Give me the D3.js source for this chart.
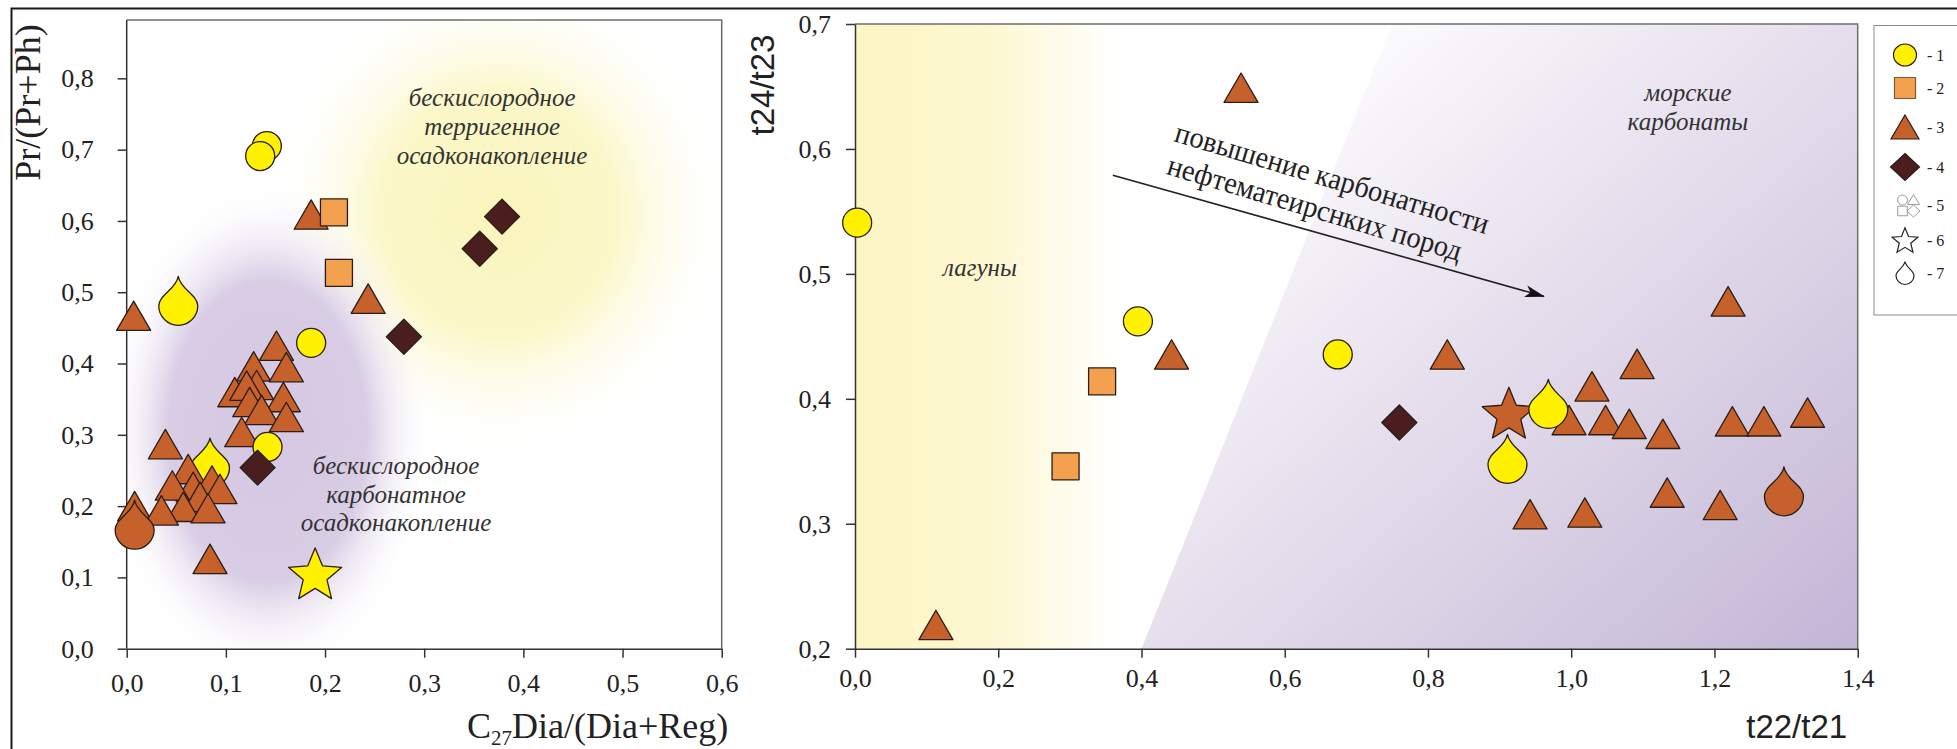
<!DOCTYPE html>
<html><head><meta charset="utf-8">
<script src="https://cdn.jsdelivr.net/npm/d3@7"></script>
<style>
html,body{margin:0;padding:0;background:#fff;overflow:hidden}
svg{display:block}
</style></head>
<body>
<svg id="chart" width="1957" height="749"></svg>
<script>
// ---------------- DATA ----------------
// tick values
const leftXTicks = [0, 0.1, 0.2, 0.3, 0.4, 0.5, 0.6];
const leftYTicks = [0, 0.1, 0.2, 0.3, 0.4, 0.5, 0.6, 0.7, 0.8];
const rightXTicks = [0, 0.2, 0.4, 0.6, 0.8, 1.0, 1.2, 1.4];
const rightYTicks = [0.2, 0.3, 0.4, 0.5, 0.6, 0.7];

// legend categories
const legendLabels = ["- 1", "- 2", "- 3", "- 4", "- 5", "- 6", "- 7"];
const legendShapes = ["circle", "square", "triangle", "diamond", "outline4", "star", "drop"];

// Left plot: C27Dia/(Dia+Reg) vs Pr/(Pr+Ph)
const leftGroup1 = [[0.1413, 0.705], [0.1346, 0.691], [0.186, 0.429], [0.142, 0.283]];
const leftGroup2 = [[0.209, 0.612], [0.214, 0.527]];
const leftGroup3 = [[0.186, 0.609], [0.2435, 0.491], [0.007, 0.467], [0.008, 0.200],
  [0.128, 0.396], [0.151, 0.425], [0.161, 0.395], [0.131, 0.370], [0.109, 0.360],
  [0.121, 0.369], [0.158, 0.353], [0.124, 0.346], [0.136, 0.335], [0.161, 0.325],
  [0.116, 0.304], [0.039, 0.287], [0.062, 0.252], [0.086, 0.236], [0.067, 0.227],
  [0.046, 0.229], [0.094, 0.224], [0.074, 0.213], [0.057, 0.199], [0.035, 0.194],
  [0.082, 0.197], [0.084, 0.126]];
const leftGroup4 = [[0.3785, 0.606], [0.356, 0.561], [0.2795, 0.4375], [0.132, 0.254]];
const leftDrops = [[0.052, 0.488, 1], [0.084, 0.261, 1]];
const leftDropsFront = [[0.008, 0.174, 3]];
const leftStars = [[0.19, 0.106, 1]];

// Right plot: t22/t21 vs t24/t23
const rightGroup1 = [[0.003, 0.541], [0.395, 0.462], [0.674, 0.4355]];
const rightGroup2 = [[0.345, 0.414], [0.294, 0.346]];
const rightGroup3 = [[0.539, 0.649], [0.442, 0.4355], [0.113, 0.219], [0.827, 0.4355],
  [1.219, 0.478], [1.092, 0.428], [1.029, 0.410], [0.997, 0.383], [1.048, 0.383],
  [1.081, 0.380], [1.128, 0.372], [1.225, 0.382], [1.269, 0.382], [1.330, 0.389],
  [1.134, 0.325], [1.208, 0.315], [0.9425, 0.3076], [1.019, 0.309]];
const rightGroup4 = [[0.760, 0.381]];
const rightStars = [[0.913, 0.389, 3]];
const rightDrops = [[0.968, 0.396, 1], [0.911, 0.352, 1], [1.297, 0.326, 3]];

// ---------------- STYLE ----------------
const catColor = {1: "#fff100", 2: "#f4a14f", 3: "#c7612c", 4: "#4a1e1e"};
const strokeCol = "#2b1d14";
const serif = "'Liberation Serif','Times New Roman',serif";
const sans = "'Liberation Sans',Arial,sans-serif";
const comma = d => d3.format(".1f")(d).replace(".", ",");

const svg = d3.select("#chart");
const defs = svg.append("defs");

// ---------- symbol paths ----------
function triPath(w, h) { return `M0,${-h/2}L${w/2},${h/2}L${-w/2},${h/2}Z`; }
function sqPath(s) { return `M${-s/2},${-s/2}h${s}v${s}h${-s}Z`; }
function diaPath(hw, hh) { return `M0,${-hh}L${hw},0L0,${hh}L${-hw},0Z`; }
function starPath(R, r) {
  let p = "";
  for (let i = 0; i < 10; i++) {
    const rad = i % 2 === 0 ? R : r;
    const a = -Math.PI / 2 + i * Math.PI / 5;
    p += (i === 0 ? "M" : "L") + (rad * Math.cos(a)).toFixed(2) + "," + (rad * Math.sin(a) + R * 0.1).toFixed(2);
  }
  return p + "Z";
}
function dropPath(w, h) {
  const r = w / 2, cy = h / 2 - r, ty = -h / 2;
  return `M0,${ty}C${r*0.12},${ty + (cy - ty)*0.45} ${r},${cy - r*0.55} ${r},${cy}` +
         `A${r},${r} 0 1 1 ${-r},${cy}` +
         `C${-r},${cy - r*0.55} ${-r*0.12},${ty + (cy - ty)*0.45} 0,${ty}Z`;
}

// ---------- LEFT PLOT ----------
const lx = d3.scaleLinear().domain([0, 0.6]).range([126.7, 721.7]);
const ly = d3.scaleLinear().domain([0, 0.88]).range([648.7, 21.3]);
const L = {x0: lx(0), x1: lx(0.6), y0: ly(0), y1: 20};

// background blobs
const gY = defs.append("radialGradient").attr("id", "blobY");
gY.append("stop").attr("offset", "0").attr("stop-color", "#faf5bc");
gY.append("stop").attr("offset", "0.5").attr("stop-color", "#fbf7c9");
gY.append("stop").attr("offset", "1").attr("stop-color", "#ffffff").attr("stop-opacity", 0);
const gP = defs.append("radialGradient").attr("id", "blobP");
gP.append("stop").attr("offset", "0").attr("stop-color", "#d4c7e2");
gP.append("stop").attr("offset", "0.6").attr("stop-color", "#d8cde5");
gP.append("stop").attr("offset", "1").attr("stop-color", "#ffffff").attr("stop-opacity", 0);

defs.append("clipPath").attr("id", "clipL").append("rect")
  .attr("x", L.x0).attr("y", L.y1).attr("width", L.x1 - L.x0).attr("height", L.y0 - L.y1);

const lbg = svg.append("g").attr("clip-path", "url(#clipL)");
lbg.append("ellipse").attr("cx", lx(0.375)).attr("cy", ly(0.61)).attr("rx", 235).attr("ry", 245).attr("fill", "url(#blobY)");
lbg.append("ellipse").attr("cx", lx(0.142)).attr("cy", ly(0.305)).attr("rx", 165).attr("ry", 250).attr("fill", "url(#blobP)");

// ---------- RIGHT PLOT ----------
const rx = d3.scaleLinear().domain([0, 1.4]).range([855, 1857.7]);
const ry = d3.scaleLinear().domain([0.2, 0.7]).range([648.7, 24]);
const R = {x0: rx(0), x1: rx(1.4), y0: ry(0.2), y1: ry(0.7)};

const gYel = defs.append("linearGradient").attr("id", "yelRect").attr("x1", 0).attr("x2", 1).attr("y1", 0).attr("y2", 0);
gYel.append("stop").attr("offset", "0").attr("stop-color", "#fcf5c4");
gYel.append("stop").attr("offset", "0.45").attr("stop-color", "#fcf7cf");
gYel.append("stop").attr("offset", "0.92").attr("stop-color", "#ffffff");
const gPur = defs.append("linearGradient").attr("id", "purPoly").attr("gradientUnits", "userSpaceOnUse")
  .attr("x1", 1300).attr("y1", 30).attr("x2", R.x1).attr("y2", R.y0);
gPur.append("stop").attr("offset", "0").attr("stop-color", "#ffffff");
gPur.append("stop").attr("offset", "1").attr("stop-color", "#c3b5d5");

svg.append("rect").attr("x", rx(0)).attr("y", R.y1).attr("width", rx(0.4) - rx(0)).attr("height", R.y0 - R.y1)
  .attr("fill", "url(#yelRect)");
const polyPts = [[0.4, 0.2], [1.4, 0.2], [1.4, 0.7], [0.75, 0.7]];
svg.append("path").attr("d", "M" + polyPts.map(p => rx(p[0]) + "," + ry(p[1])).join("L") + "Z")
  .attr("fill", "url(#purPoly)");

// ---------- frames & axes ----------
function box(b) {
  svg.append("path").attr("d", `M${b.x0},${b.y1}H${b.x1}V${b.y0}`)
    .attr("fill", "none").attr("stroke", "#6d6d6d").attr("stroke-width", 1.5);
}
box(L); box(R);

function styleAxis(g) {
  g.attr("font-family", null).attr("font-size", null);
  g.selectAll("text").style("font-family", serif).style("font-size", "26px").attr("fill", "#222");
  g.selectAll("line").attr("stroke", "#333").attr("stroke-width", 1.5);
  g.select(".domain").attr("stroke", "#333").attr("stroke-width", 1.5);
}
svg.append("g").attr("transform", `translate(0,${L.y0})`)
  .call(d3.axisBottom(lx).tickValues(leftXTicks).tickFormat(comma).tickSize(9).tickSizeOuter(0).tickPadding(16))
  .call(styleAxis);
svg.append("g").attr("transform", `translate(${L.x0},0)`)
  .call(d3.axisLeft(ly).tickValues(leftYTicks).tickFormat(comma).tickSize(9).tickSizeOuter(0).tickPadding(24))
  .call(styleAxis)
  .select(".domain").attr("d", `M0,${L.y0}V${L.y1}`);
svg.append("g").attr("transform", `translate(0,${R.y0})`)
  .call(d3.axisBottom(rx).tickValues(rightXTicks).tickFormat(comma).tickSize(9).tickSizeOuter(0).tickPadding(11))
  .call(styleAxis);
svg.append("g").attr("transform", `translate(${R.x0},0)`)
  .call(d3.axisLeft(ry).tickValues(rightYTicks).tickFormat(comma).tickSize(9).tickSizeOuter(0).tickPadding(15))
  .call(styleAxis);

// axis titles
svg.append("text").attr("transform", "translate(40,102.5) rotate(-90)").attr("text-anchor", "middle")
  .style("font-family", serif).style("font-size", "36px").attr("fill", "#222").text("Pr/(Pr+Ph)");
const xt = svg.append("text").attr("x", 467).attr("y", 738).style("font-family", serif).style("font-size", "36px").attr("fill", "#222");
xt.append("tspan").text("C");
xt.append("tspan").style("font-size", "21px").attr("dy", 7).text("27");
xt.append("tspan").attr("dy", -7).text("Dia/(Dia+Reg)");
svg.append("text").attr("transform", "translate(774,85) rotate(-90)").attr("text-anchor", "middle")
  .style("font-family", sans).style("font-size", "33px").attr("fill", "#222").text("t24/t23");
svg.append("text").attr("x", 1796.7).attr("y", 738).attr("text-anchor", "middle")
  .style("font-family", sans).style("font-size", "33px").attr("fill", "#222").text("t22/t21");

// annotations
function lines(x, y, arr, size, gap) {
  const t = svg.append("text").style("font-family", serif).style("font-style", "italic")
    .style("font-size", size + "px").attr("fill", "#333").attr("text-anchor", "middle");
  arr.forEach((s, i) => t.append("tspan").attr("x", x).attr("y", y + i * gap).text(s));
}
lines(lx(0.3685), ly(0.761), ["бескислородное", "терригенное", "осадконакопление"], 25, 29);
lines(lx(0.2716), ly(0.245), ["бескислородное", "карбонатное", "осадконакопление"], 25, 28.7);
lines(rx(0.1745), ry(0.4984), ["лагуны"], 25, 0);
lines(rx(1.163), ry(0.638), ["морские", "карбонаты"], 25, 29);

// rotated annotation + arrow
const ang = 16.6;
[["повышение карбонатности", rx(0.665), ry(0.5744), 326], ["нефтематеирснких пород", rx(0.641), ry(0.5504), 306]]
  .forEach(([s, cx, cy, len]) => {
    svg.append("text").attr("transform", `translate(${cx},${cy}) rotate(${ang})`)
      .attr("text-anchor", "middle").attr("dominant-baseline", "middle")
      .style("font-family", serif).style("font-size", "30px").attr("fill", "#222")
      .attr("textLength", len).attr("lengthAdjust", "spacingAndGlyphs").text(s);
  });
defs.append("marker").attr("id", "arrowHead").attr("viewBox", "0 0 20 12").attr("refX", 19).attr("refY", 6)
  .attr("markerWidth", 20).attr("markerHeight", 12).attr("markerUnits", "userSpaceOnUse").attr("orient", "auto")
  .append("path").attr("d", "M0,0L20,6L0,12L5,6Z").attr("fill", "#111");
svg.append("line").attr("x1", rx(0.360)).attr("y1", ry(0.579)).attr("x2", rx(0.962)).attr("y2", ry(0.482))
  .attr("stroke", "#222").attr("stroke-width", 1.6).attr("marker-end", "url(#arrowHead)");

// ---------- markers ----------
function draw(xs, ys, data, shape, cat) {
  const shapes = {
    circle: null,
    square: sqPath(27),
    triangle: triPath(34, 29.4),
    diamond: diaPath(17.5, 17.5),
    star: starPath(28, 12.5),
    drop: dropPath(39, 49)
  };
  if (shape === "circle") {
    svg.append("g").selectAll("circle").data(data).join("circle")
      .attr("cx", d => xs(d[0])).attr("cy", d => ys(d[1])).attr("r", 14.5)
      .attr("fill", catColor[cat]).attr("stroke", strokeCol).attr("stroke-width", 1.3);
  } else {
    svg.append("g").selectAll("path").data(data).join("path")
      .attr("transform", d => `translate(${xs(d[0])},${ys(d[1])})`)
      .attr("d", shapes[shape])
      .attr("fill", d => catColor[d[2] || cat]).attr("stroke", strokeCol).attr("stroke-width", 1.3)
      .attr("stroke-linejoin", "round");
  }
}
// left
draw(lx, ly, leftDrops, "drop");
draw(lx, ly, leftGroup3, "triangle", 3);
draw(lx, ly, leftDropsFront, "drop");
draw(lx, ly, leftGroup1, "circle", 1);
draw(lx, ly, leftGroup2, "square", 2);
draw(lx, ly, leftGroup4, "diamond", 4);
draw(lx, ly, leftStars, "star");
// right
draw(rx, ry, rightGroup3, "triangle", 3);
draw(rx, ry, rightGroup1, "circle", 1);
draw(rx, ry, rightGroup2, "square", 2);
draw(rx, ry, rightGroup4, "diamond", 4);
draw(rx, ry, rightStars, "star");
draw(rx, ry, rightDrops, "drop");

// ---------- legend ----------
svg.append("rect").attr("x", 1874).attr("y", 25.5).attr("width", 120).attr("height", 289.5)
  .attr("fill", "#fff").attr("stroke", "#8a8a8a").attr("stroke-width", 1);
const legY = [55, 88, 127, 167, 205, 240, 273];
const lg = svg.append("g");
legendShapes.forEach((s, i) => {
  const g = lg.append("g").attr("transform", `translate(1905,${legY[i]})`);
  if (s === "circle") g.append("ellipse").attr("rx", 11.5).attr("ry", 11).attr("fill", catColor[1]).attr("stroke", strokeCol).attr("stroke-width", 1.2);
  if (s === "square") g.append("path").attr("d", sqPath(21)).attr("fill", catColor[2]).attr("stroke", "#7a5a3a").attr("stroke-width", 1.2);
  if (s === "triangle") g.append("path").attr("d", triPath(28, 24)).attr("fill", catColor[3]).attr("stroke", strokeCol).attr("stroke-width", 1.2);
  if (s === "diamond") g.append("path").attr("d", diaPath(14.5, 13.5)).attr("fill", catColor[4]).attr("stroke", strokeCol).attr("stroke-width", 1.2);
  if (s === "outline4") {
    const sc = "#9a9a9a";
    g.append("circle").attr("cx", -2.5).attr("cy", -5).attr("r", 5).attr("fill", "none").attr("stroke", sc);
    g.append("path").attr("transform", "translate(8.5,-5.5)").attr("d", triPath(12, 10)).attr("fill", "none").attr("stroke", sc);
    g.append("path").attr("transform", "translate(-2.5,6)").attr("d", sqPath(9.5)).attr("fill", "none").attr("stroke", sc);
    g.append("path").attr("transform", "translate(8.5,6)").attr("d", diaPath(6.5, 6)).attr("fill", "none").attr("stroke", sc);
  }
  if (s === "star") g.append("path").attr("d", starPath(13.5, 6)).attr("fill", "none").attr("stroke", "#222").attr("stroke-width", 1.2);
  if (s === "drop") g.append("path").attr("d", dropPath(18, 23)).attr("fill", "none").attr("stroke", "#222").attr("stroke-width", 1.2);
  lg.append("text").attr("x", 1927).attr("y", legY[i]).attr("dy", "0.35em")
    .style("font-family", serif).style("font-size", "16px").attr("fill", "#222").text(legendLabels[i]);
});

// outer frame
svg.append("path").attr("d", "M11.5,760V8.5H1970").attr("fill", "none").attr("stroke", "#1a1a1a").attr("stroke-width", 2);
</script>
</body></html>
